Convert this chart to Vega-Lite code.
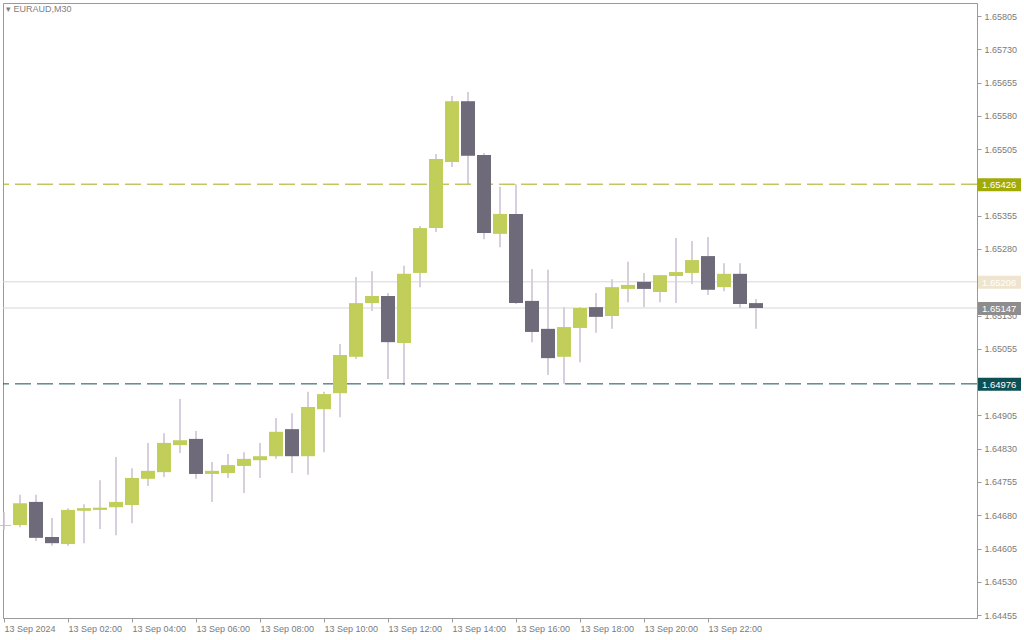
{
  "$schema": "https://vega.github.io/schema/vega-lite/v6.json",
  "autosize": {"type": "none"},
  "width": 974,
  "height": 615,
  "padding": {"left": 3, "top": 3, "right": 47, "bottom": 22},
  "background": "#ffffff",
  "title": {"text": "▾ EURAUD,M30", "anchor": "start", "frame": "group", "offset": -11, "dx": 3, "fontSize": 9, "font": "Liberation Sans", "color": "#808080", "fontWeight": "normal"},
  "config": {
    "view": {"stroke": "#9a9a9a", "strokeWidth": 1},
    "axis": {"labelFont": "Liberation Sans", "labelFontSize": 9, "labelColor": "#7a7a7a", "tickColor": "#9a9a9a", "domainColor": "#9a9a9a", "grid": false, "title": null, "tickSize": 4, "labelOverlap": false, "labelFlush": false}
  },
  "datasets": {
    "candles": [
      {"t": "2024-09-13T00:00:00Z", "o": 1.64656, "h": 1.64687, "l": 1.64647, "c": 1.64658},
      {"t": "2024-09-13T00:30:00Z", "o": 1.64658, "h": 1.64726, "l": 1.64653, "c": 1.64707},
      {"t": "2024-09-13T01:00:00Z", "o": 1.64710, "h": 1.64726, "l": 1.64622, "c": 1.64629},
      {"t": "2024-09-13T01:30:00Z", "o": 1.64631, "h": 1.64674, "l": 1.64611, "c": 1.64617},
      {"t": "2024-09-13T02:00:00Z", "o": 1.64615, "h": 1.64696, "l": 1.64611, "c": 1.64692},
      {"t": "2024-09-13T02:30:00Z", "o": 1.64690, "h": 1.64705, "l": 1.64617, "c": 1.64696},
      {"t": "2024-09-13T03:00:00Z", "o": 1.64692, "h": 1.64759, "l": 1.64649, "c": 1.64697},
      {"t": "2024-09-13T03:30:00Z", "o": 1.64698, "h": 1.64811, "l": 1.64635, "c": 1.64710},
      {"t": "2024-09-13T04:00:00Z", "o": 1.64703, "h": 1.64786, "l": 1.64662, "c": 1.64764},
      {"t": "2024-09-13T04:30:00Z", "o": 1.64762, "h": 1.64843, "l": 1.64746, "c": 1.64780},
      {"t": "2024-09-13T05:00:00Z", "o": 1.64777, "h": 1.64865, "l": 1.64766, "c": 1.64843},
      {"t": "2024-09-13T05:30:00Z", "o": 1.64838, "h": 1.64942, "l": 1.64820, "c": 1.64849},
      {"t": "2024-09-13T06:00:00Z", "o": 1.64852, "h": 1.64870, "l": 1.64762, "c": 1.64773},
      {"t": "2024-09-13T06:30:00Z", "o": 1.64773, "h": 1.64800, "l": 1.64710, "c": 1.64780},
      {"t": "2024-09-13T07:00:00Z", "o": 1.64775, "h": 1.64818, "l": 1.64764, "c": 1.64793},
      {"t": "2024-09-13T07:30:00Z", "o": 1.64791, "h": 1.64822, "l": 1.64730, "c": 1.64807},
      {"t": "2024-09-13T08:00:00Z", "o": 1.64804, "h": 1.64843, "l": 1.64764, "c": 1.64813},
      {"t": "2024-09-13T08:30:00Z", "o": 1.64813, "h": 1.64899, "l": 1.64807, "c": 1.64868},
      {"t": "2024-09-13T09:00:00Z", "o": 1.64874, "h": 1.64910, "l": 1.64775, "c": 1.64813},
      {"t": "2024-09-13T09:30:00Z", "o": 1.64813, "h": 1.64958, "l": 1.64771, "c": 1.64924},
      {"t": "2024-09-13T10:00:00Z", "o": 1.64919, "h": 1.64958, "l": 1.64822, "c": 1.64953},
      {"t": "2024-09-13T10:30:00Z", "o": 1.64955, "h": 1.65066, "l": 1.64901, "c": 1.65041},
      {"t": "2024-09-13T11:00:00Z", "o": 1.65037, "h": 1.65217, "l": 1.65032, "c": 1.65158},
      {"t": "2024-09-13T11:30:00Z", "o": 1.65158, "h": 1.65230, "l": 1.65140, "c": 1.65174},
      {"t": "2024-09-13T12:00:00Z", "o": 1.65174, "h": 1.65181, "l": 1.64987, "c": 1.65070},
      {"t": "2024-09-13T12:30:00Z", "o": 1.65068, "h": 1.65242, "l": 1.64973, "c": 1.65224},
      {"t": "2024-09-13T13:00:00Z", "o": 1.65226, "h": 1.65332, "l": 1.65194, "c": 1.65327},
      {"t": "2024-09-13T13:30:00Z", "o": 1.65327, "h": 1.65494, "l": 1.65318, "c": 1.65483},
      {"t": "2024-09-13T14:00:00Z", "o": 1.65476, "h": 1.65625, "l": 1.65465, "c": 1.65613},
      {"t": "2024-09-13T14:30:00Z", "o": 1.65613, "h": 1.65634, "l": 1.65426, "c": 1.65490},
      {"t": "2024-09-13T15:00:00Z", "o": 1.65492, "h": 1.65496, "l": 1.65302, "c": 1.65316},
      {"t": "2024-09-13T15:30:00Z", "o": 1.65314, "h": 1.65420, "l": 1.65284, "c": 1.65359},
      {"t": "2024-09-13T16:00:00Z", "o": 1.65359, "h": 1.65426, "l": 1.65156, "c": 1.65158},
      {"t": "2024-09-13T16:30:00Z", "o": 1.65163, "h": 1.65235, "l": 1.65070, "c": 1.65093},
      {"t": "2024-09-13T17:00:00Z", "o": 1.65100, "h": 1.65233, "l": 1.64996, "c": 1.65034},
      {"t": "2024-09-13T17:30:00Z", "o": 1.65037, "h": 1.65149, "l": 1.64976, "c": 1.65104},
      {"t": "2024-09-13T18:00:00Z", "o": 1.65102, "h": 1.65149, "l": 1.65025, "c": 1.65147},
      {"t": "2024-09-13T18:30:00Z", "o": 1.65149, "h": 1.65181, "l": 1.65091, "c": 1.65127},
      {"t": "2024-09-13T19:00:00Z", "o": 1.65129, "h": 1.65212, "l": 1.65100, "c": 1.65194},
      {"t": "2024-09-13T19:30:00Z", "o": 1.65190, "h": 1.65251, "l": 1.65160, "c": 1.65199},
      {"t": "2024-09-13T20:00:00Z", "o": 1.65206, "h": 1.65226, "l": 1.65149, "c": 1.65190},
      {"t": "2024-09-13T20:30:00Z", "o": 1.65183, "h": 1.65221, "l": 1.65160, "c": 1.65221},
      {"t": "2024-09-13T21:00:00Z", "o": 1.65219, "h": 1.65305, "l": 1.65158, "c": 1.65228},
      {"t": "2024-09-13T21:30:00Z", "o": 1.65226, "h": 1.65298, "l": 1.65201, "c": 1.65255},
      {"t": "2024-09-13T22:00:00Z", "o": 1.65264, "h": 1.65307, "l": 1.65176, "c": 1.65188},
      {"t": "2024-09-13T22:30:00Z", "o": 1.65194, "h": 1.65248, "l": 1.65185, "c": 1.65224},
      {"t": "2024-09-13T23:00:00Z", "o": 1.65224, "h": 1.65248, "l": 1.65147, "c": 1.65156},
      {"t": "2024-09-13T23:30:00Z", "o": 1.65158, "h": 1.65167, "l": 1.65100, "c": 1.65147}
    ],
    "levels": [
      {"name": "resistance", "price": 1.65426, "label": "1.65426"},
      {"name": "ask", "price": 1.65206, "label": "1.65206"},
      {"name": "bid", "price": 1.65147, "label": "1.65147"},
      {"name": "support", "price": 1.64976, "label": "1.64976"}
    ]
  },
  "layer": [
    {
      "data": {"name": "candles"},
      "mark": {"type": "rule", "strokeWidth": 1.6, "color": "#cfc2d4"},
      "encoding": {
        "x": {"field": "t", "type": "temporal", "scale": {"domain": [1726185487500, 1726295062500], "padding": 0},
          "axis": {"orient": "bottom", "values": [1726185600000, 1726192800000, 1726200000000, 1726207200000, 1726214400000, 1726221600000, 1726228800000, 1726236000000, 1726243200000, 1726250400000, 1726257600000, 1726264800000],
            "labelExpr": "utcFormat(datum.value, '%H:%M') == '00:00' ? '13 Sep 2024' : utcFormat(datum.value, '13 Sep %H:%M')",
            "labelAlign": "left", "labelBaseline": "top", "labelPadding": 2, "labelFlush": false, "labelOverlap": false}},
        "y": {"field": "l", "type": "quantitative", "scale": {"domain": [1.644484, 1.658343], "zero": false, "nice": false},
          "axis": {"orient": "right", "values": [1.64455, 1.6453, 1.64605, 1.6468, 1.64755, 1.6483, 1.64905, 1.65055, 1.6513, 1.6528, 1.65355, 1.65505, 1.6558, 1.65655, 1.6573, 1.65805],
            "format": ".5f", "labelAlign": "left", "labelBaseline": "middle", "labelPadding": 3, "labelOverlap": false, "labelFlush": false}},
        "y2": {"field": "h"}
      }
    },
    {
      "data": {"name": "levels"},
      "mark": {"type": "rule", "strokeWidth": 1},
      "encoding": {
        "y": {"field": "price", "type": "quantitative"},
        "stroke": {"field": "name", "type": "nominal", "scale": {"domain": ["resistance", "ask", "bid", "support"], "range": ["#a4ad14", "#d6d6d6", "#d6d6d6", "#174f55"]}, "legend": null},
        "strokeDash": {"field": "name", "type": "nominal", "scale": {"domain": ["resistance", "ask", "bid", "support"], "range": [[16, 6], [1, 0], [1, 0], [16, 6]]}, "legend": null}
      }
    },
    {
      "data": {"name": "candles"},
      "mark": {"type": "bar", "width": 14},
      "encoding": {
        "x": {"field": "t", "type": "temporal"},
        "y": {"field": "o", "type": "quantitative"},
        "y2": {"field": "c"},
        "color": {"condition": {"test": "datum.c >= datum.o", "value": "#c1cf5a"}, "value": "#6f6a7a"}
      }
    },
    {
      "data": {"name": "levels"},
      "mark": {"type": "rect", "xOffset": 1, "x2Offset": 44, "yOffset": -6, "y2Offset": 7},
      "encoding": {
        "x": {"datum": 1726295062500, "type": "temporal"},
        "x2": {"datum": 1726295062500},
        "y": {"field": "price", "type": "quantitative"},
        "y2": {"field": "price"},
        "fill": {"field": "name", "type": "nominal", "scale": {"domain": ["resistance", "ask", "bid", "support"], "range": ["#a2aa06", "#efe4cd", "#8d8d8d", "#0d5054"]}, "legend": null}
      }
    },
    {
      "data": {"name": "levels"},
      "mark": {"type": "text", "align": "left", "baseline": "middle", "dx": 5, "dy": 1, "fill": "#ffffff", "font": "Liberation Sans", "fontSize": 9.5},
      "encoding": {
        "x": {"datum": 1726295062500, "type": "temporal"},
        "y": {"field": "price", "type": "quantitative"},
        "text": {"field": "label"}
      }
    }
  ]
}
